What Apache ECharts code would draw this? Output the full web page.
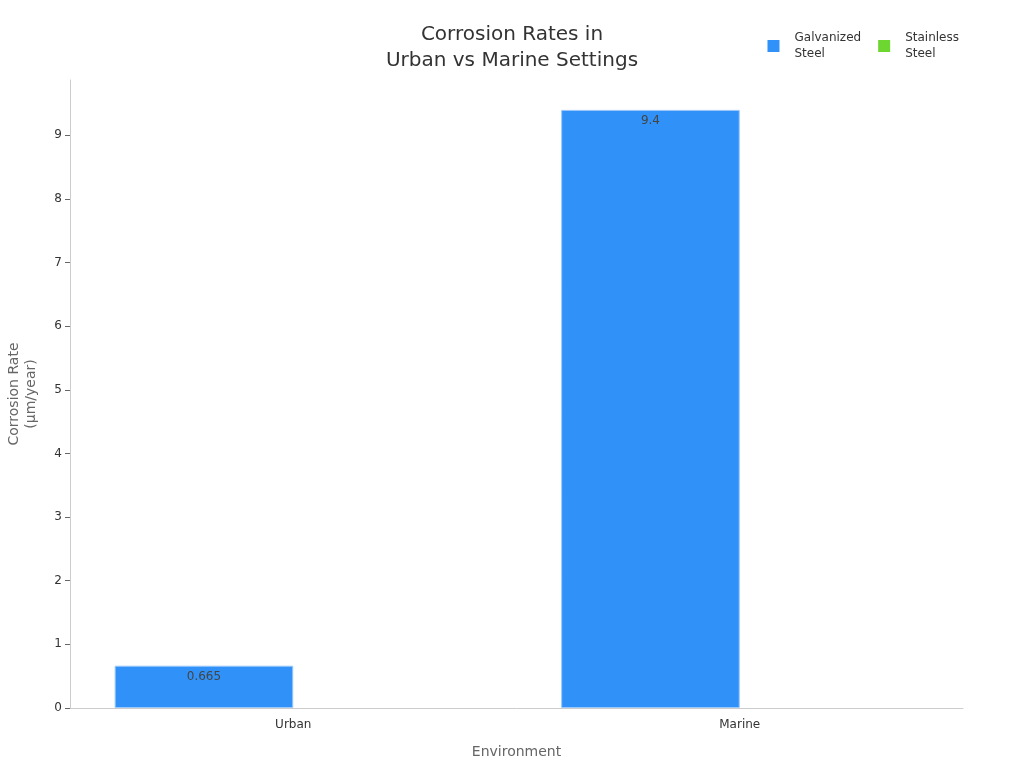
<!DOCTYPE html>
<html>
<head>
<meta charset="utf-8">
<script src="https://cdn.jsdelivr.net/npm/echarts@6/dist/echarts.min.js"></script>
<style>html,body{margin:0;padding:0;background:#fff}#c{width:1024px;height:768px}</style>
</head>
<body>
<div id="c"></div>
<script>
const categories = ['Urban', 'Marine'];
const galvanized = [0.665, 9.4];
const stainless = [0, 0];
const seriesNames = ['Galvanized\nSteel', 'Stainless\nSteel'];

const FONT = 'DejaVu Sans';
const chart = echarts.init(document.getElementById('c'));
const labelOpt = {
  show: true, position: 'insideTop', color: '#444', fontSize: 12,
  fontFamily: FONT,
  formatter: p => (p.value ? String(p.value) : '')
};
chart.setOption({
  textStyle: { fontFamily: FONT },
  title: {
    text: 'Corrosion Rates in\nUrban vs Marine Settings',
    left: 'center', top: 17,
    textStyle: { fontSize: 20, fontWeight: 'normal', color: '#333', lineHeight: 26, fontFamily: FONT }
  },
  legend: {
    top: 25, right: 60, itemWidth: 12, itemHeight: 12, itemGap: 17,
    icon: 'rect',
    itemStyle: { borderWidth: 0 },
    textStyle: { fontSize: 12, color: '#333', lineHeight: 16, fontFamily: FONT, padding: [0, 0, 0, 10] },
    data: seriesNames
  },
  grid: { left: 70, right: 61, top: 80, bottom: 60, containLabel: false, outerBoundsMode: 'none' },
  xAxis: {
    type: 'category', data: categories,
    name: 'Environment', nameLocation: 'middle', nameGap: 37,
    nameTextStyle: { fontSize: 14, color: '#666', fontFamily: FONT },
    axisLine: { lineStyle: { color: '#ccc' } },
    axisTick: { alignWithLabel: true, lineStyle: { color: '#666' } },
    axisLabel: { color: '#333', fontSize: 12, margin: 11, fontFamily: FONT }
  },
  yAxis: {
    type: 'value', min: 0, max: 9.87, interval: 1,
    name: 'Corrosion Rate\n(µm/year)', nameLocation: 'middle', nameGap: 30,
    nameTextStyle: { fontSize: 14, color: '#666', lineHeight: 17, fontFamily: FONT },
    axisLine: { show: true, lineStyle: { color: '#ccc' } },
    axisTick: { show: true, lineStyle: { color: '#666' } },
    axisLabel: { color: '#333', fontSize: 12, showMaxLabel: false, fontFamily: FONT },
    splitLine: { show: false }
  },
  series: [
    {
      name: seriesNames[0], type: 'bar', data: galvanized,
      barGap: 0, barCategoryGap: '20%',
      itemStyle: { color: '#3092F8', borderColor: '#9cc9fb', borderWidth: 1 },
      label: labelOpt
    },
    {
      name: seriesNames[1], type: 'bar', data: stainless,
      itemStyle: { color: '#6DD630', borderWidth: 0 },
      label: labelOpt
    }
  ]
});
</script>
</body>
</html>
